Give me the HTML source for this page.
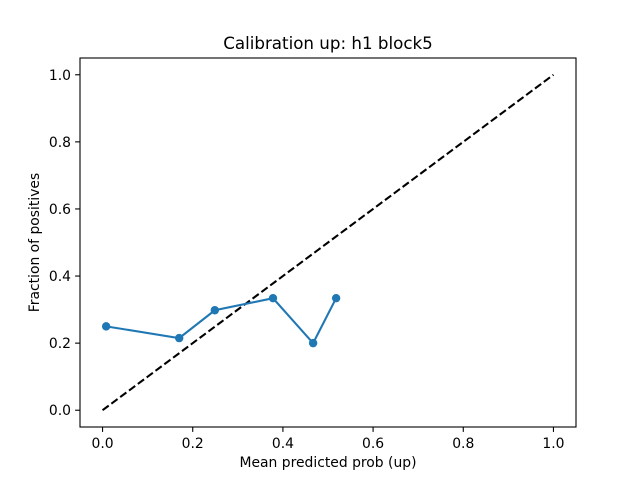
<!DOCTYPE html>
<html><head><meta charset="utf-8"><style>
body{margin:0;background:#fff;}
svg{display:block;font-family:"DejaVu Sans","Liberation Sans",sans-serif;}
</style></head><body>
<svg id="chart" width="640" height="480"></svg>
<script>
const xValues=[0.008,0.17,0.249,0.378,0.467,0.518];
const yValues=[0.25,0.215,0.298,0.334,0.2,0.334];
const tickValues=[0,0.2,0.4,0.6,0.8,1.0];
const tickLabels=["0.0","0.2","0.4","0.6","0.8","1.0"];
const L=80,R=576,T=58,B=427;
const sx=v=>L+(v+0.05)/1.1*(R-L);
const sy=v=>B-(v+0.05)/1.1*(B-T);
const svg=document.getElementById('chart');
const NS='http://www.w3.org/2000/svg';
function mk(tag,attrs,name,text){const e=document.createElementNS(NS,tag);for(const k in attrs)e.setAttribute(k,attrs[k]);


if(text!==undefined)e.textContent=text;svg.appendChild(e);return e;}
mk('rect',{x:L,y:T,width:R-L,height:B-T,fill:'none',stroke:'#000','stroke-width':1.1},'plot-frame');
tickValues.forEach((v,i)=>{
  mk('line',{x1:sx(v),x2:sx(v),y1:B,y2:B+4.9,stroke:'#000','stroke-width':1.1},'x-tick');
  mk('text',{x:sx(v),y:B+21,'text-anchor':'middle','font-size':13.9,fill:'#000'},'x-tick-label',tickLabels[i]);
  mk('line',{x1:L-4.9,x2:L,y1:sy(v),y2:sy(v),stroke:'#000','stroke-width':1.1},'y-tick');
  mk('text',{x:L-9,y:sy(v)+5,'text-anchor':'end','font-size':13.9,fill:'#000'},'y-tick-label',tickLabels[i]);
});
mk('line',{x1:sx(0),y1:sy(0),x2:sx(1),y2:sy(1),stroke:'#000','stroke-width':2.08,'stroke-dasharray':'7.7,3.3'},'perfect-calibration-line');
mk('polyline',{points:xValues.map((x,i)=>sx(x)+','+sy(yValues[i])).join(' '),fill:'none',stroke:'#1f77b4','stroke-width':2.08},'calibration-curve');
xValues.forEach((x,i)=>mk('circle',{cx:sx(x),cy:sy(yValues[i]),r:4.2,fill:'#1f77b4'},'calibration-point'));
mk('text',{x:328,y:49,'text-anchor':'middle','font-size':16.7,fill:'#000'},'chart-title','Calibration up: h1 block5');
mk('text',{x:328,y:467,'text-anchor':'middle','font-size':13.9,fill:'#000'},'x-axis-title','Mean predicted prob (up)');
mk('text',{x:39,y:242.5,'text-anchor':'middle','font-size':13.9,fill:'#000',transform:'rotate(-90 39 242.5)'},'y-axis-title','Fraction of positives');
</script>
</body></html>
